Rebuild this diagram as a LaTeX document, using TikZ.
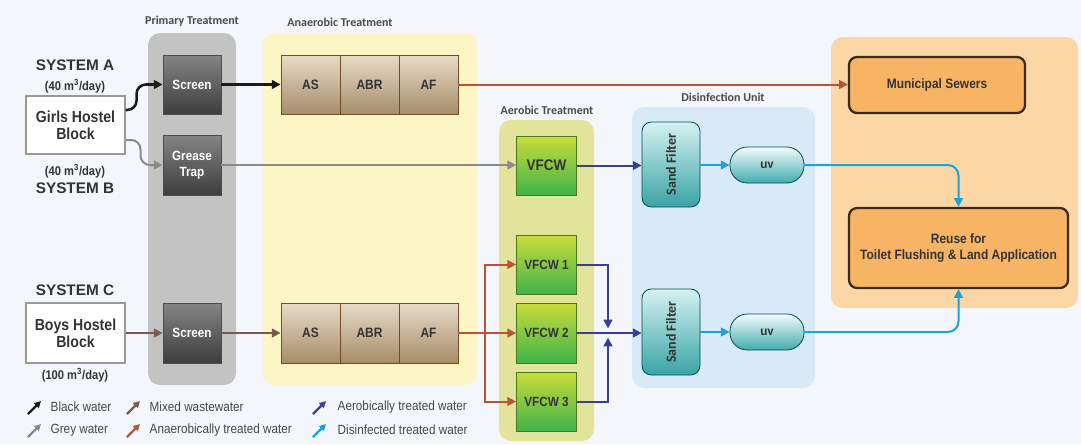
\documentclass[tikz,border=0pt]{standalone}
\usepackage{fontspec}
\setmainfont{Liberation Sans}
\newfontfamily\nar[FakeStretch=0.88]{Liberation Sans}
\newfontfamily\calib{Carlito}
\usetikzlibrary{arrows.meta,calc}
\definecolor{bgc}{HTML}{F3F7FB}
\definecolor{pgray}{HTML}{C3C3C3}
\definecolor{pyel}{HTML}{FCF5C4}
\definecolor{polive}{HTML}{E2E49C}
\definecolor{pblue}{HTML}{D8EAF8}
\definecolor{porange}{HTML}{FBD7A6}
\definecolor{cblk}{HTML}{1A1A1A}
\definecolor{cgry}{HTML}{8A8A8A}
\definecolor{cmix}{HTML}{7A5A4A}
\definecolor{cana}{HTML}{B4553A}
\definecolor{caer}{HTML}{3B3F91}
\definecolor{cdis}{HTML}{1EA0DC}
\definecolor{ttl}{HTML}{4A4A4A}
\definecolor{txt}{HTML}{333333}
\begin{document}
\begin{tikzpicture}[x=0.75pt,y=-0.75pt,
  sz/.style 2 args={minimum width=#1*0.75pt, minimum height=#2*0.75pt, inner sep=0pt},
  ptitle/.style={font=\calib\bfseries\fontsize{9}{10}\selectfont, text=ttl},
  sysl/.style={font=\bfseries\fontsize{11.5}{13}\selectfont, text=txt},
  flow/.style={font=\nar\bfseries\fontsize{9.5}{11}\selectfont, text=txt},
  hostel/.style={draw=gray!80, fill=white, line width=0.8pt, font=\nar\bfseries\fontsize{12}{14}\selectfont, text=txt, align=center},
  scr/.style={draw=black!70, line width=0.6pt, top color=black!48, bottom color=black!76, text=white, font=\nar\bfseries\fontsize{10}{12}\selectfont, align=center},
  ana/.style={draw=brown!60!black, line width=0.6pt, top color={rgb,255:red,232;green,220;blue,200}, bottom color={rgb,255:red,166;green,140;blue,106}, text=txt, font=\nar\bfseries\fontsize{10.2}{12}\selectfont},
  vf/.style={draw=black!55!green!60!brown, line width=0.6pt, top color={rgb,255:red,201;green,220;blue,58}, bottom color={rgb,255:red,63;green,180;blue,73}, text=txt, font=\nar\bfseries\fontsize{10}{12}\selectfont},
  sand/.style={draw=teal!60!black, line width=0.6pt, rounded corners=7pt, top color={rgb,255:red,214;green,241;blue,241}, bottom color={rgb,255:red,56;green,164;blue,166}},
  uvs/.style={draw=teal!60!black, line width=0.6pt, rounded corners=13pt, top color={rgb,255:red,242;green,251;blue,251}, bottom color={rgb,255:red,66;green,172;blue,174}, font=\calib\bfseries\fontsize{10}{12}\selectfont, text=txt},
  outb/.style={draw={rgb,255:red,59;green,43;blue,28}, line width=1.7pt, rounded corners=6pt, fill={rgb,255:red,247;green,180;blue,101}, font=\nar\bfseries\fontsize{10.2}{12}\selectfont, text=txt, align=center},
  tip/.style={-{Triangle[length=6.5pt,width=6.5pt]}},
  blk/.style={tip, draw=cblk, line width=1.9pt},
  gry/.style={tip, draw=cgry, line width=1.5pt},
  mix/.style={tip, draw=cmix, line width=1.6pt},
  anl/.style={tip, draw=cana, line width=1.5pt},
  aer/.style={tip, draw=caer, line width=1.5pt},
  dis/.style={tip, draw=cdis, line width=1.5pt},
  leg/.style={font=\nar\fontsize{10}{12}\selectfont, text=txt!90, anchor=west},
  legi/.style={line width=1.8pt, -{Triangle[length=5pt,width=5pt]}}
]
\fill[bgc] (0,0) rectangle (1081,444);
\useasboundingbox (0,0) rectangle (1081,444);
% panels
\fill[pgray, rounded corners=9pt] (148,33) rectangle (236,385);
\fill[pyel, rounded corners=9pt] (263,33) rectangle (477,385);
\fill[polive, rounded corners=9pt] (499,120) rectangle (594,441);
\fill[pblue, rounded corners=9pt] (632,107) rectangle (815,388);
\fill[porange, rounded corners=9pt] (831,37) rectangle (1078,308);
% titles
\node[ptitle] (t1) at (192,21) {Primary Treatment};
\node[ptitle] (t2) at (340,22) {Anaerobic Treatment};
\node[ptitle] (t3) at (547,110) {Aerobic Treatment};
\node[ptitle] (t4) at (723,97) {Disinfection Unit};
% system labels
\node[sysl] (sa) at (75,65) {SYSTEM A};
\node[flow] (qa) at (75,86) {(40 m\textsuperscript{3}/day)};
\node[flow] (qb) at (75,171) {(40 m\textsuperscript{3}/day)};
\node[sysl] (sb) at (75,188) {SYSTEM B};
\node[sysl] (sc) at (75,290) {SYSTEM C};
\node[flow] (qc) at (75,375) {(100 m\textsuperscript{3}/day)};
% sources
\node[hostel, sz={99}{58}] (girls) at (75.5,125) {Girls Hostel\\[-1pt]Block};
\node[hostel, sz={99}{60}] (boys) at (75.5,333) {Boys Hostel\\[-1pt]Block};
% primary
\node[scr, sz={58}{59}] (scrA) at (192,84.5) {Screen};
\node[scr, sz={58}{60}] (grease) at (192,165) {Grease\\Trap};
\node[scr, sz={58}{60}] (scrC) at (192,333) {Screen};
% anaerobic
\node[ana, sz={59}{59}] (asA) at (310.5,84.5) {AS};
\node[ana, sz={59}{59}] (abrA) at (369.5,84.5) {ABR};
\node[ana, sz={59}{59}] (afA) at (428.5,84.5) {AF};
\node[ana, sz={59}{60}] (asC) at (310.5,333) {AS};
\node[ana, sz={59}{60}] (abrC) at (369.5,333) {ABR};
\node[ana, sz={59}{60}] (afC) at (428.5,333) {AF};
% aerobic
\node[vf, sz={60}{59}, font=\nar\bfseries\fontsize{11.5}{13}\selectfont] (vfB) at (546.5,165.5) {VFCW};
\node[vf, sz={60}{59}] (vf1) at (546.5,264.5) {VFCW 1};
\node[vf, sz={60}{60}] (vf2) at (546.5,333) {VFCW 2};
\node[vf, sz={60}{59}] (vf3) at (546.5,401.5) {VFCW 3};
% disinfection
\node[sand, sz={58}{85}, label={[rotate=90, font=\calib\bfseries\fontsize{10.5}{12}\selectfont, text=txt]center:Sand Filter}] (sf1) at (671,164.5) {};
\node[sand, sz={58}{86}, label={[rotate=90, font=\calib\bfseries\fontsize{10.5}{12}\selectfont, text=txt]center:Sand Filter}] (sf2) at (671,332) {};
\node[uvs, sz={74}{36}] (uv1) at (767,165) {uv};
\node[uvs, sz={74}{36}] (uv2) at (767,332) {uv};
% outputs
\node[outb, sz={176}{56}] (sew) at (937,85) {Municipal Sewers};
\node[outb, sz={219}{80}] (reuse) at (958.5,248) {Reuse for\\Toilet Flushing \& Land Application};
% connectors system A/B
\draw[blk, rounded corners=7pt] ([yshift=11.25pt]girls.east) -- ++(11,0) |- (scrA.west);
\draw[blk] (scrA.east) -- (asA.west);
\draw[anl] (afA.east) -- (afA.east -| sew.west);
\draw[gry, rounded corners=7pt] ([yshift=-11.25pt]girls.east) -- ++(15,0) |- (grease.west);
\draw[gry] (grease.east) -- (grease.east -| vfB.west);
\draw[aer] (vfB.east) -- (vfB.east -| sf1.west);
\draw[dis] (sf1.east |- uv1) -- (uv1.west);
\draw[dis, rounded corners=8pt] (uv1.east) -| (reuse.north);
% system C
\draw[mix] (boys.east) -- (scrC.west);
\draw[mix] (scrC.east) -- (asC.west);
\coordinate (fk) at (485,333);
\draw[anl] (afC.east) -- (vf2.west);
\draw[anl] (fk) |- (vf1.west);
\draw[anl] (fk) |- (vf3.west);
\coordinate (mg) at (608,333);
\draw[aer] (vf1.east) -| ([yshift=3.5pt]mg);
\draw[aer] (vf3.east) -| ([yshift=-3.5pt]mg);
\draw[aer] (vf2.east) -- (vf2.east -| sf2.west);
\draw[dis] (sf2.east |- uv2) -- (uv2.west);
\draw[dis, rounded corners=8pt] (uv2.east) -| (reuse.south);
% legend
\draw[legi, cblk] (28,414) -- (41,401);
\node[leg] (l1) at (46,407) {Black water};
\draw[legi, cgry] (28,437) -- (41,424);
\node[leg] (l2) at (46,430) {Grey water};
\draw[legi, cmix] (127,414) -- (140,401);
\node[leg] (l3) at (145,407) {Mixed wastewater};
\draw[legi, cana] (127,437) -- (140,424);
\node[leg] (l4) at (145,430) {Anaerobically treated water};
\draw[legi, caer] (313,414) -- (326,401);
\node[leg] (l5) at (333,407) {Aerobically treated water};
\draw[legi, cdis] (313,437) -- (326,424);
\node[leg] (l6) at (333,430) {Disinfected treated water};
\end{tikzpicture}
\end{document}
